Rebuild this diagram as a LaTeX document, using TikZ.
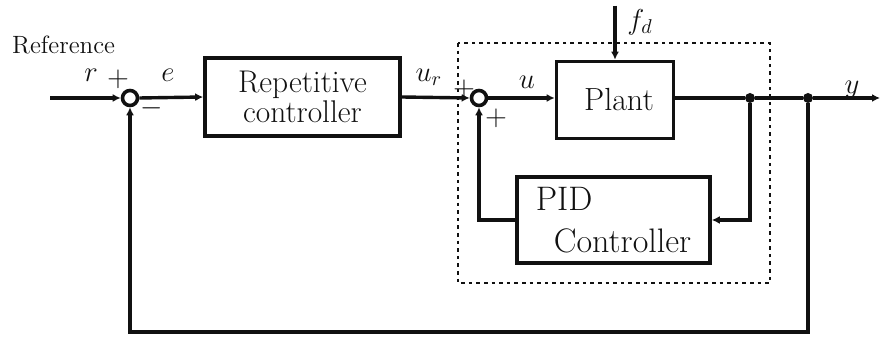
\documentclass[tikz,border=0pt]{standalone}
\usetikzlibrary{arrows.meta}
\definecolor{ink}{HTML}{111111}
\newcommand{\blockfont}{\fontsize{17}{21}\selectfont}
\newcommand{\plantfont}{\fontsize{16}{18}\selectfont}
\newcommand{\stackfont}{\fontsize{15.7}{8.5}\selectfont}
\newcommand{\labelfont}{\fontsize{12.5}{13}\selectfont}
\newcommand{\signalfont}{\fontsize{14.5}{15}\selectfont}
\tikzset{
  block/.style={draw=ink, line width=1.8pt, rectangle, inner sep=0pt, text=ink},
  sumnode/.style={draw=ink, line width=1.8pt, circle, minimum size=7.5pt, inner sep=0pt},
  branch/.style={fill=ink, circle, minimum size=5pt, inner sep=0pt},
  wire/.style={draw=ink, line width=1.7pt},
  sig/.style={-{Latex[length=4pt,width=4pt]}},
  dotbox/.style={draw=ink, line width=1.2pt, dash pattern=on 1.8pt off 2pt},
  sign/.style={text=ink, font=\signalfont, inner sep=0pt},
}

\begin{document}
\begin{tikzpicture}[x=0.5pt,y=-0.5pt]
  \useasboundingbox (0,0) rectangle (883,346);

  % Loop blocks and summing points.
  \node[sumnode] (sum1) at (130,98) {};
  \node[block, minimum width=97.5pt, minimum height=39pt, align=center, font=\stackfont] (rep) at (302.5,97) {Repetitive\\controller};
  \node[sumnode] (sum2) at (479,98) {};
  \node[block, minimum width=58.5pt, minimum height=38.5pt, font=\plantfont] (plant) at (615,100) {\hspace{4pt}Plant};
  \node[block, minimum width=96.5pt, minimum height=43pt, align=left, font=\blockfont] (pid) at (613.5,220) {PID\\\hspace{9pt}Controller};
  \node[branch] (dot1) at (750,98) {};
  \node[branch] (dot2) at (808,98) {};

  % Free ends of the signals.
  \coordinate (refin) at (50,98);
  \coordinate (yout) at (880,98);
  \coordinate (fbright) at (808,332);
  \path (plant.north) ++(0,-54) coordinate (fdtop);

  % Dotted frame round plant and PID loop.
  \draw[dotbox] (458,43) rectangle (770,283);

  % Forward path.
  \draw[wire, sig] (refin) -- (sum1.west);
  \draw[wire, sig] (sum1.east) -- (rep.west);
  \draw[wire, sig] (rep.east) -- (sum2.west);
  \draw[wire, sig] (sum2.east) -- (sum2.east -| plant.west);
  \draw[wire] (plant.east |- dot1) -- (dot1) -- (dot2);
  \draw[wire, sig] (dot2) -- (yout);
  \draw[wire, sig] (fdtop) -- (plant.north);

  % Inner PID loop and outer repetitive loop.
  \draw[wire, sig] (dot1) |- (pid.east);
  \draw[wire, sig] (pid.west) -| (sum2.south);
  \draw[wire, sig] (dot2) -- (fbright) -| (sum1.south);

  % Labels.
  \node[anchor=west, text=ink, font=\labelfont] (reflabel) at (5,45) {Reference};
  \node[sign] (rlabel) at (91,75) {$r$};
  \node[sign] (rplus) at (118,79) {$+$};
  \node[sign] (elabel) at (168,75) {$e$};
  \node[sign] (eminus) at (152,108) {$-$};
  \node[sign] (urlabel) at (429,77) {$u_r$};
  \node[sign] (urplus) at (464,89) {$+$};
  \node[sign] (pidplus) at (496,118) {$+$};
  \node[sign] (ulabel) at (527,82) {$u$};
  \node[sign] (fdlabel) at (640,22) {$f_d$};
  \node[sign] (ylabel) at (852,90) {$y$};
\end{tikzpicture}
\end{document}
